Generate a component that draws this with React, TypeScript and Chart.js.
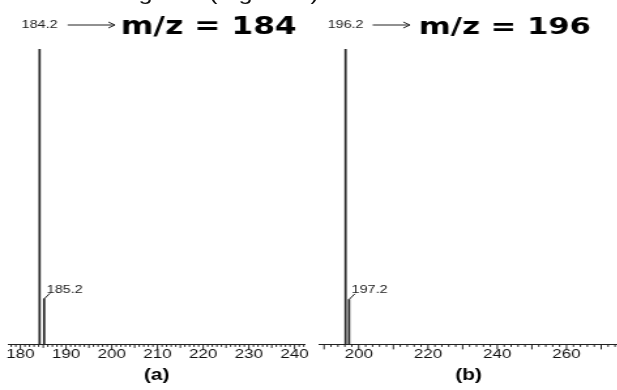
import React, { useEffect, useRef } from 'react';
import { Chart, registerables } from 'chart.js';

Chart.register(...registerables);

// ---------- data ----------
const topCaption = 'formation of figures (Figure 7)';

const leftMz = [184.2, 185.2];
const leftIntensity = [100, 15.4];
const leftPeakLabels = ['184.2', '185.2'];
const leftTitle = 'm/z = 184';
const leftTicks = [180, 190, 200, 210, 220, 230, 240];
const leftRange = [177.3, 242.3];
const leftPanel = '(a)';

const rightMz = [196.2, 197.2];
const rightIntensity = [100, 15.2];
const rightPeakLabels = ['196.2', '197.2'];
const rightTitle = 'm/z = 196';
const rightTicks = [200, 220, 240, 260];
const rightRange = [188.66, 274.75];
const rightPanel = '(b)';

// ---------- layout ----------
const W = 617;
const H = 390;
const S = 1.3; // horizontal stretch of the figure

const annotPlugin = {
  id: 'msAnnot',
  afterDraw(chart: any, _args: any, opts: any) {
    const { ctx, chartArea } = chart;
    const xs = chart.scales.x;
    const ys = chart.scales.y;
    const pts = chart.data.datasets[0].data as { x: number; y: number }[];
    ctx.save();
    // tick marks hanging below the axis
    ctx.strokeStyle = '#222';
    ctx.lineWidth = 1;
    const y0 = chartArea.bottom;
    const step = opts.minorStep;
    const start = Math.ceil(xs.min / step) * step;
    for (let v = start; v <= xs.max + 1e-9; v += step) {
      const r = Math.round(v);
      const px = xs.getPixelForValue(r);
      const len = r % 10 === 0 ? 5 : r % 5 === 0 ? 3.5 : 2.5;
      ctx.beginPath();
      ctx.moveTo(px, y0);
      ctx.lineTo(px, y0 + len);
      ctx.stroke();
    }
    // peak annotations
    ctx.fillStyle = '#222';
    ctx.font = '11px Arial, "Liberation Sans", sans-serif';
    pts.forEach((p, i) => {
      const px = xs.getPixelForValue(p.x);
      const py = ys.getPixelForValue(p.y);
      const label = opts.labels[i];
      if (i === 0) {
        const ly = py - 24;
        ctx.textAlign = 'center';
        ctx.textBaseline = 'middle';
        ctx.fillText(label, px, ly);
        // arrow
        const ax0 = px + opts.arrowStart;
        const ax1 = px + opts.arrowEnd;
        ctx.beginPath();
        ctx.moveTo(ax0, ly);
        ctx.lineTo(ax1, ly);
        ctx.moveTo(ax1 - 5, ly - 3);
        ctx.lineTo(ax1, ly);
        ctx.lineTo(ax1 - 5, ly + 3);
        ctx.stroke();
        ctx.font = `bold ${opts.titleSize}px "DejaVu Sans", sans-serif`;
        ctx.textAlign = 'left';
        ctx.fillStyle = '#000';
        ctx.fillText(opts.title, px + opts.titleX, ly + 3);
        ctx.fillStyle = '#222';
        ctx.font = '11px Arial, "Liberation Sans", sans-serif';
      } else {
        ctx.beginPath();
        ctx.moveTo(px, py);
        ctx.lineTo(px + 4.4, py - 5.6);
        ctx.stroke();
        ctx.textAlign = 'left';
        ctx.textBaseline = 'alphabetic';
        ctx.fillText(label, px + 2, py - 6);
      }
    });
    // panel label
    ctx.fillStyle = '#000';
    ctx.font = 'bold 16px Arial, "Liberation Sans", sans-serif';
    ctx.textAlign = 'center';
    ctx.textBaseline = 'middle';
    ctx.fillText(opts.panel, (chartArea.left + chartArea.right) / 2, 376);
    ctx.restore();
  },
};

function makeConfig(
  mz: number[],
  inten: number[],
  labels: string[],
  ticks: number[],
  range: number[],
  minorStep: number,
  title: string,
  panel: string,
  offs: { arrowStart: number; arrowEnd: number; titleX: number; titleSize: number },
  padLeft: number
): any {
  return {
    type: 'bar',
    data: {
      datasets: [
        {
          data: mz.map((x, i) => ({ x, y: inten[i] })),
          backgroundColor: '#2a2a2a',
          borderWidth: 0,
          barThickness: 1.1,
        },
      ],
    },
    options: {
      animation: false,
      responsive: true,
      maintainAspectRatio: false,
      layout: { padding: { left: padLeft, right: 0, top: 49, bottom: 26 } },
      plugins: {
        legend: { display: false },
        tooltip: { enabled: false },
        msAnnot: { labels, title, panel, minorStep, ...offs },
      },
      scales: {
        x: {
          type: 'linear',
          offset: false,
          bounds: 'data',
          min: range[0],
          max: range[1],
          grid: { display: false, drawTicks: false, offset: false },
          border: { display: true, color: '#222', width: 1 },
          ticks: {
            padding: 2,
            color: '#111',
            font: { family: 'Arial, "Liberation Sans", sans-serif', size: 13 },
            maxRotation: 0,
            autoSkip: false,
          },
          afterBuildTicks: (ax: any) => {
            ax.ticks = ticks.map((v) => ({ value: v }));
          },
        },
        y: { display: false, min: 0, max: 100 },
      },
    },
    plugins: [annotPlugin],
  };
}

export default function App() {
  const leftRef = useRef<HTMLCanvasElement>(null);
  const rightRef = useRef<HTMLCanvasElement>(null);

  useEffect(() => {
    const c1 = new Chart(
      leftRef.current as HTMLCanvasElement,
      makeConfig(leftMz, leftIntensity, leftPeakLabels, leftTicks, leftRange, 1, leftTitle, leftPanel,
        { arrowStart: 28 / S, arrowEnd: 75 / S, titleX: 81 / S, titleSize: 24 }, 8 / S)
    );
    const c2 = new Chart(
      rightRef.current as HTMLCanvasElement,
      makeConfig(rightMz, rightIntensity, rightPeakLabels, rightTicks, rightRange, 2, rightTitle, rightPanel,
        { arrowStart: 27 / S, arrowEnd: 64 / S, titleX: 73 / S, titleSize: 23.5 }, 10 / S)
    );
    return () => {
      c1.destroy();
      c2.destroy();
    };
  }, []);

  return (
    <div style={{ position: 'fixed', left: 0, top: 0, width: W, height: H, background: '#fff', overflow: 'hidden' }}>
      <div
        style={{
          position: 'absolute',
          left: 0,
          top: 0,
          width: W / S,
          height: H,
          transform: `scaleX(${S})`,
          transformOrigin: '0 0',
        }}
      >
        <div
          style={{
            position: 'absolute',
            left: -15 / S,
            top: -16,
            font: '19.5px Arial, "Liberation Sans", sans-serif',
            lineHeight: 1,
            whiteSpace: 'nowrap',
            color: '#111',
          }}
        >
          {topCaption}
        </div>
        <div style={{ position: 'absolute', left: 0, top: 0, width: 310 / S, height: H }}>
          <canvas ref={leftRef} />
        </div>
        <div style={{ position: 'absolute', left: 310 / S, top: 0, width: 307 / S, height: H }}>
          <canvas ref={rightRef} />
        </div>
      </div>
    </div>
  );
}
